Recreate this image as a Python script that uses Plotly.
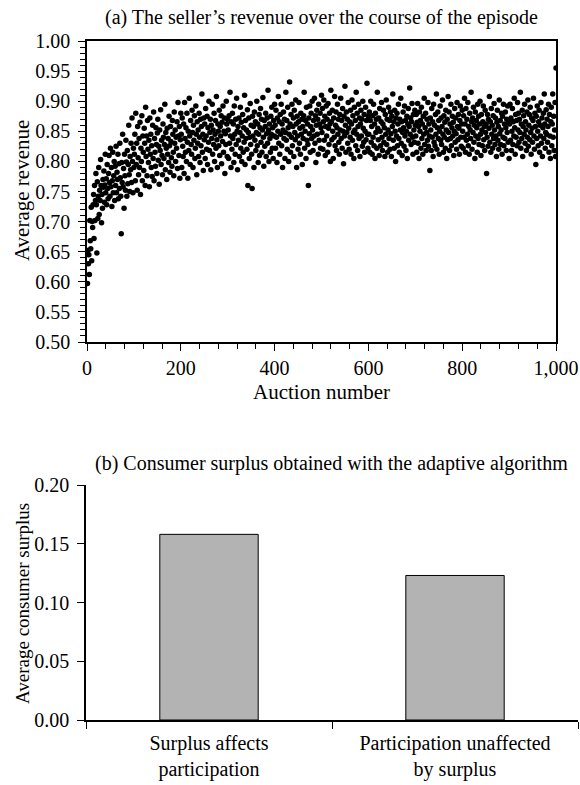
import plotly.graph_objects as go

# Average revenue per auction (thousandths), auctions 1-1000, in blocks of 100
rev_001_100 = [597, 652, 630, 645, 612, 702, 668, 655, 724, 635,
               700, 690, 728, 745, 672, 760, 702, 735, 780, 728,
               648, 766, 705, 742, 790, 712, 752, 735, 803, 760,
               698, 745, 722, 770, 757, 784, 732, 761, 812, 748,
               771, 728, 795, 755, 738, 780, 810, 765, 742, 822,
               758, 790, 725, 768, 815, 748, 776, 800, 735, 792,
               760, 825, 748, 782, 770, 812, 738, 796, 755, 830,
               773, 742, 680, 798, 765, 845, 758, 788, 722, 812,
               776, 752, 835, 799, 742, 818, 763, 795, 860, 778,
               750, 808, 786, 830, 765, 872, 800, 748, 822, 790]
rev_101_200 = [812, 845, 768, 880, 795, 830, 752, 858, 806, 778,
               838, 790, 865, 745, 822, 800, 876, 768, 842, 815,
               785, 855, 830, 760, 890, 808, 842, 776, 868, 820,
               798, 835, 758, 872, 812, 845, 790, 826, 775, 860,
               805, 882, 768, 838, 815, 792, 856, 828, 780, 847,
               870, 802, 825, 762, 852, 818, 886, 795, 835, 810,
               778, 862, 840, 805, 828, 895, 786, 848, 822, 770,
               855, 812, 838, 798, 875, 826, 782, 858, 833, 806,
               792, 868, 845, 815, 776, 882, 830, 852, 800, 840,
               822, 866, 788, 898, 842, 810, 858, 772, 836, 880]
rev_201_300 = [845, 790, 872, 825, 808, 862, 780, 898, 838, 815,
               856, 800, 880, 832, 772, 850, 818, 905, 842, 795,
               868, 828, 812, 885, 848, 790, 860, 835, 876, 805,
               822, 892, 845, 778, 866, 830, 852, 808, 880, 840,
               798, 870, 826, 858, 912, 815, 845, 785, 872, 836,
               862, 805, 888, 842, 820, 875, 795, 856, 832, 900,
               818, 848, 870, 786, 860, 838, 895, 812, 852, 828,
               880, 800, 845, 868, 822, 908, 836, 790, 862, 850,
               826, 885, 810, 858, 842, 876, 796, 865, 833, 892,
               815, 850, 872, 780, 846, 828, 900, 862, 808, 870]
rev_301_400 = [852, 805, 876, 830, 915, 842, 790, 866, 820, 880,
               838, 862, 798, 892, 845, 812, 870, 828, 905, 850,
               786, 858, 835, 872, 808, 848, 890, 822, 865, 800,
               842, 878, 815, 856, 832, 910, 795, 868, 838, 852,
               820, 886, 760, 848, 872, 805, 840, 896, 828, 860,
               812, 755, 875, 842, 858, 790, 882, 835, 866, 818,
               848, 900, 826, 862, 798, 845, 878, 810, 856, 888,
               832, 870, 815, 852, 906, 840, 792, 868, 825, 858,
               880, 808, 846, 872, 830, 918, 852, 800, 862, 838,
               815, 875, 845, 890, 822, 856, 805, 868, 842, 895]
rev_401_500 = [860, 822, 885, 840, 798, 872, 850, 908, 830, 866,
               812, 878, 845, 895, 826, 862, 790, 852, 882, 838,
               870, 805, 848, 915, 835, 868, 820, 890, 856, 800,
               845, 932, 862, 815, 878, 840, 895, 826, 858, 872,
               808, 885, 848, 836, 902, 862, 790, 875, 842, 820,
               866, 898, 830, 855, 812, 880, 845, 870, 795, 858,
               838, 876, 915, 822, 850, 868, 805, 890, 835, 862,
               828, 760, 872, 846, 892, 815, 858, 880, 838, 900,
               852, 818, 868, 842, 905, 830, 876, 798, 860, 885,
               845, 870, 812, 895, 835, 862, 880, 822, 856, 910]
rev_501_600 = [848, 888, 820, 866, 902, 835, 875, 810, 858, 892,
               842, 870, 815, 896, 855, 828, 880, 862, 800, 918,
               866, 836, 885, 850, 805, 872, 840, 908, 826, 860,
               882, 818, 856, 895, 845, 870, 832, 812, 878, 852,
               905, 838, 868, 822, 888, 850, 796, 875, 842, 925,
               860, 815, 882, 848, 870, 830, 898, 855, 820, 866,
               840, 885, 812, 862, 902, 835, 876, 848, 805, 890,
               852, 868, 826, 915, 845, 880, 818, 858, 895, 838,
               872, 808, 862, 885, 842, 870, 825, 900, 855, 832,
               878, 815, 850, 890, 836, 868, 930, 845, 822, 875]
rev_601_700 = [845, 882, 815, 868, 900, 832, 858, 812, 876, 840,
               895, 826, 862, 805, 880, 848, 870, 822, 915, 855,
               836, 872, 810, 888, 850, 826, 866, 898, 840, 818,
               862, 885, 832, 856, 808, 878, 845, 902, 828, 870,
               815, 852, 890, 838, 868, 820, 882, 846, 808, 875,
               858, 912, 835, 866, 822, 885, 850, 800, 872, 842,
               880, 826, 862, 895, 838, 815, 870, 852, 905, 830,
               866, 810, 848, 882, 856, 825, 892, 842, 868, 818,
               850, 875, 805, 862, 888, 835, 858, 922, 845, 872,
               828, 866, 896, 840, 812, 878, 852, 832, 885, 860]
rev_701_800 = [842, 878, 815, 865, 896, 830, 858, 805, 882, 850,
               868, 822, 890, 838, 862, 812, 875, 845, 905, 828,
               856, 880, 818, 848, 870, 835, 898, 825, 862, 842,
               785, 872, 852, 818, 888, 840, 866, 808, 895, 832,
               860, 826, 878, 845, 912, 820, 856, 882, 838, 868,
               812, 850, 892, 835, 872, 828, 858, 902, 845, 815,
               876, 840, 865, 822, 885, 852, 805, 870, 836, 908,
               848, 882, 818, 862, 838, 895, 826, 856, 875, 842,
               865, 810, 850, 888, 832, 872, 846, 820, 898, 858,
               836, 878, 855, 812, 868, 892, 840, 825, 862, 885]
rev_801_900 = [850, 822, 876, 840, 905, 862, 815, 888, 835, 870,
               845, 898, 826, 858, 812, 880, 852, 838, 915, 866,
               820, 872, 848, 890, 832, 860, 805, 882, 842, 868,
               856, 815, 895, 838, 875, 828, 862, 900, 845, 810,
               878, 852, 826, 866, 892, 836, 858, 818, 885, 848,
               862, 780, 840, 878, 825, 870, 855, 908, 832, 866,
               815, 888, 845, 860, 822, 876, 838, 896, 852, 828,
               872, 842, 808, 865, 885, 835, 858, 820, 902, 846,
               868, 828, 852, 880, 812, 875, 840, 895, 826, 862,
               838, 882, 856, 818, 870, 848, 892, 832, 866, 805]
rev_901_1000 = [862, 895, 835, 872, 818, 850, 888, 828, 866, 842,
                905, 856, 812, 878, 840, 868, 826, 898, 852, 880,
                832, 870, 848, 915, 822, 862, 838, 885, 808, 858,
                876, 845, 895, 830, 866, 852, 818, 882, 840, 902,
                825, 860, 878, 836, 890, 848, 812, 872, 855, 832,
                868, 905, 842, 820, 880, 858, 795, 875, 838, 892,
                850, 826, 866, 885, 815, 860, 842, 898, 830, 872,
                808, 856, 880, 838, 912, 862, 822, 848, 886, 845,
                870, 832, 858, 895, 815, 878, 842, 805, 866, 890,
                826, 862, 912, 840, 875, 818, 852, 898, 808, 955]

revenue_blocks = [rev_001_100, rev_101_200, rev_201_300, rev_301_400, rev_401_500,
                  rev_501_600, rev_601_700, rev_701_800, rev_801_900, rev_901_1000]

# Bar chart data
surplus_categories = ["Surplus affects<br>participation", "Participation unaffected<br>by surplus"]
surplus_values = [0.158, 0.123]

x_tick_vals = [0, 200, 400, 600, 800, 1000]
x_tick_text = ["0", "200", "400", "600", "800", "1,000"]

auction, revenue = [], []
for b, block in enumerate(revenue_blocks):
    for i, v in enumerate(block):
        auction.append(b * 100 + i + 1)
        revenue.append(v / 1000)

FONT = "Liberation Serif"
W, H = 580, 785
FS = 20


def px(x):
    return x / W


def py(y):
    return 1 - y / H


fig = go.Figure()
fig.add_trace(go.Scatter(x=auction, y=revenue, mode="markers",
                         marker=dict(color="black", size=5.5, line=dict(width=0)),
                         xaxis="x", yaxis="y", showlegend=False, hoverinfo="skip"))
bar_pos = [1, 2]
fig.add_trace(go.Bar(x=bar_pos, y=surplus_values, width=0.4,
                     marker=dict(color="#b3b3b3", line=dict(color="black", width=1)),
                     xaxis="x2", yaxis="y2", showlegend=False, hoverinfo="skip"))

xd1 = [px(87), px(556)]
yd1 = [py(342), py(41)]
xd2 = [px(86), px(578)]
yd2 = [py(720), py(485)]

tickfont = dict(family=FONT, size=FS, color="black")

fig.update_layout(
    width=W, height=H, margin=dict(l=0, r=0, t=0, b=0, autoexpand=False),
    paper_bgcolor="white", plot_bgcolor="white",
    font=dict(family=FONT, size=FS, color="black"),
    xaxis=dict(domain=xd1, anchor="y", range=[0, 1000], tickvals=x_tick_vals, ticktext=x_tick_text,
               ticks="outside", ticklen=7, tickwidth=1, tickcolor="black", automargin=False,
               minor=dict(dtick=40, tick0=0, ticks="outside", ticklen=5, tickcolor="black", showgrid=False),
               showline=True, linecolor="black", linewidth=1.5, mirror=True,
               showgrid=False, zeroline=False, tickfont=tickfont),
    yaxis=dict(domain=yd1, anchor="x", range=[0.5, 1.0], dtick=0.05, tick0=0.5, tickformat=".2f",
               ticks="outside", ticklen=7, tickwidth=1, tickcolor="black", automargin=False,
               ticklabelstandoff=4,
               minor=dict(dtick=0.01, tick0=0.5, ticks="outside", ticklen=5, tickcolor="black", showgrid=False),
               showline=True, linecolor="black", linewidth=1.5, mirror=True,
               showgrid=False, zeroline=False, tickfont=tickfont),
    xaxis3=dict(overlaying="x", anchor="y", range=[0, 1000], tickvals=x_tick_vals, automargin=False,
                ticks="inside", ticklen=6, tickwidth=1, tickcolor="black",
                showticklabels=False, showline=False, showgrid=False, zeroline=False),
    yaxis3=dict(overlaying="y", anchor="x", range=[0.5, 1.0], dtick=0.05, tick0=0.5, automargin=False,
                ticks="inside", ticklen=6, tickwidth=1, tickcolor="black",
                showticklabels=False, showline=False, showgrid=False, zeroline=False),
    xaxis2=dict(domain=xd2, anchor="y2", range=[0.5, 2.5], tickvals=bar_pos, ticktext=surplus_categories,
                ticks="", automargin=False, ticklabelstandoff=4,
                minor=dict(tickvals=[0.5, 1.5, 2.5], ticks="outside", ticklen=7,
                           tickcolor="black", tickwidth=1, showgrid=False),
                showline=True, linecolor="black", linewidth=1.5, showgrid=False, zeroline=False,
                tickfont=tickfont),
    yaxis2=dict(domain=yd2, anchor="x2", range=[0, 0.2], dtick=0.05, tick0=0, tickformat=".2f",
                ticks="outside", ticklen=7, tickwidth=1, tickcolor="black", automargin=False,
                ticklabelstandoff=4,
                showline=True, linecolor="black", linewidth=1.5, showgrid=False, zeroline=False,
                tickfont=tickfont),
    annotations=[
        dict(text="(a) The seller\u2019s revenue over the course of the episode", xref="paper", yref="paper",
             x=px((87 + 556) / 2), y=py(18), showarrow=False, xanchor="center", yanchor="middle",
             font=dict(family=FONT, size=FS)),
        dict(text="Average revenue", xref="paper", yref="paper", x=px(22), y=py(191),
             showarrow=False, textangle=-90, xanchor="center", yanchor="middle",
             font=dict(family=FONT, size=21)),
        dict(text="Auction number", xref="paper", yref="paper", x=px((87 + 556) / 2), y=py(392),
             showarrow=False, xanchor="center", yanchor="middle", font=dict(family=FONT, size=21)),
        dict(text="(b) Consumer surplus obtained with the adaptive algorithm", xref="paper", yref="paper",
             x=px(331), y=py(463), showarrow=False, xanchor="center", yanchor="middle",
             font=dict(family=FONT, size=FS)),
        dict(text="Average consumer surplus", xref="paper", yref="paper", x=px(22), y=py(604),
             showarrow=False, textangle=-90, xanchor="center", yanchor="middle",
             font=dict(family=FONT, size=19)),
    ],
)

fig.write_html("out.html", config={"displayModeBar": False},
               post_script="document.body.style.margin='0';document.body.style.overflow='hidden';")
